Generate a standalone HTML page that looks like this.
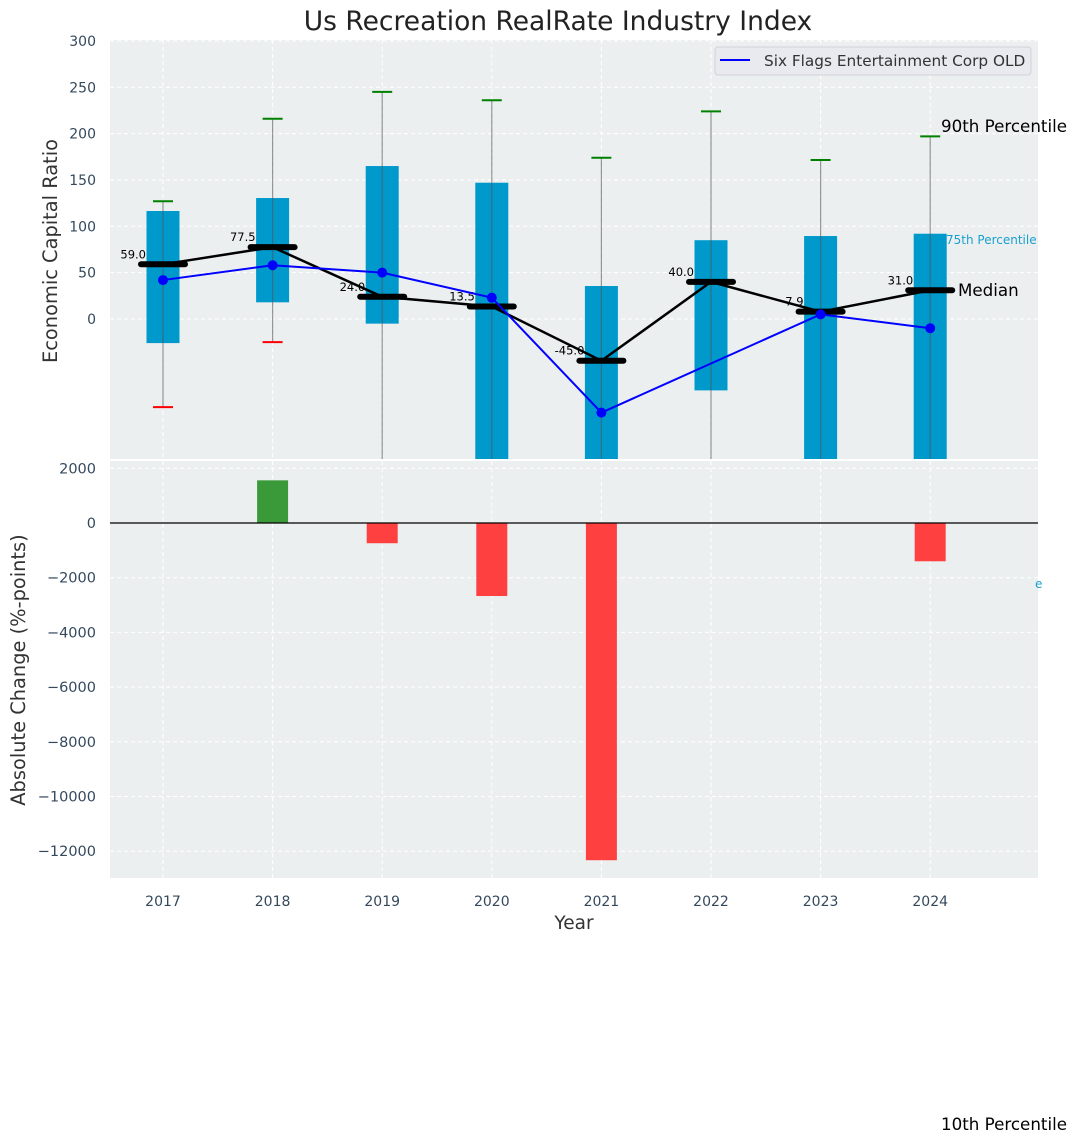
<!DOCTYPE html>
<html><head><meta charset="utf-8"><style>
body{margin:0;background:#fff;}
svg{display:block;font-family:"DejaVu Sans","Liberation Sans",sans-serif;}
</style></head><body>
<svg id="chart" width="1076" height="1144" viewBox="0 0 1076 1144">
<text x="558" y="30" font-size="26.5" text-anchor="middle" fill="#222">Us Recreation RealRate Industry Index</text>
<rect x="110" y="40" width="928" height="419" fill="#eceff0"/>
<rect x="110" y="461" width="928" height="417" fill="#eceff0"/>
<g id="topPlot"></g>
<g id="bottomPlot"></g>
<g>
<rect x="715" y="47" width="316" height="28" rx="3" fill="#e8eaf0" stroke="#cfd2d8"/>
<line x1="720" y1="60" x2="750" y2="60" stroke="#0000ff" stroke-width="2"/>
<text x="764" y="66" font-size="15.3" fill="#333">Six Flags Entertainment Corp OLD</text>
</g>
<text x="941" y="132" font-size="16.7" fill="#000">90th Percentile</text>
<text x="946" y="244" font-size="12" fill="#1aa0cf">75th Percentile</text>
<text x="958" y="296" font-size="16.7" fill="#000">Median</text>
<text x="1035" y="588" font-size="12" fill="#1aa0cf">e</text>
<text x="941" y="1130" font-size="16.7" fill="#000">10th Percentile</text>
<text transform="translate(57,251) rotate(-90)" font-size="19.4" text-anchor="middle" fill="#333">Economic Capital Ratio</text>
<text transform="translate(25,670) rotate(-90)" font-size="19.4" text-anchor="middle" fill="#333">Absolute Change (%-points)</text>
<text x="574" y="929" font-size="18.5" text-anchor="middle" fill="#333">Year</text>
</svg>
<script>
const years=[2017,2018,2019,2020,2021,2022,2023,2024];
const p90=[127,216,245,236,174,224,171.5,197];
const p75=[116.5,130.5,165,147,35.6,85,89.5,92];
const p25=[-26,18,-5,-200,-200,-77,-200,-200];
const p10=[-95,-25,-200,-200,-200,-200,-200,-200];
const medians=[59.0,77.5,24.0,13.5,-45.0,40.0,7.9,31.0];
const company=[42,58,50,23,-101,-48,5,-10];
const changes=[0,1560,-740,-2670,-12330,0,0,-1400];
const topTicks=[0,50,100,150,200,250,300];
const botTicks=[2000,0,-2000,-4000,-6000,-8000,-10000,-12000];

const NS="http://www.w3.org/2000/svg";
const xS=i=>163+i*109.6;
const yT=v=>Math.min(459,Math.max(40,319-v*0.927));
const yB=v=>523-v*0.02735;
function mk(p,t,a){const e=document.createElementNS(NS,t);for(const k in a)e.setAttribute(k,a[k]);p.appendChild(e);return e;}
const topG=document.getElementById('topPlot'),botG=document.getElementById('bottomPlot');

topTicks.forEach(v=>{
 const g=mk(topG,'line',{x1:110,x2:1038,y1:yT(v),y2:yT(v),stroke:'#fff','stroke-dasharray':'4,3'});
 
 
 const t=mk(topG,'text',{x:96,y:yT(v)+5,'font-size':14,'text-anchor':'end',fill:'#34495e'});t.textContent=v;
 
 
});
botTicks.forEach(v=>{
 const g=mk(botG,'line',{x1:110,x2:1038,y1:yB(v),y2:yB(v),stroke:'#fff','stroke-dasharray':'4,3'});
 
 
 const t=mk(botG,'text',{x:96,y:yB(v)+5,'font-size':14.5,'text-anchor':'end',fill:'#34495e'});t.textContent=v<0?'\u2212'+(-v):v;
 
 
});
years.forEach((y,i)=>{
 const x=xS(i);
 let g=mk(topG,'line',{x1:x,x2:x,y1:40,y2:459,stroke:'#fff','stroke-dasharray':'4,3'});
 
 
 g=mk(botG,'line',{x1:x,x2:x,y1:461,y2:878,stroke:'#fff','stroke-dasharray':'4,3'});
 
 
 const t=mk(botG,'text',{x:x,y:906,'font-size':14,'text-anchor':'middle',fill:'#34495e'});t.textContent=y;
 
 
});
years.forEach((y,i)=>{
 const x=xS(i);
 const b=mk(topG,'rect',{x:x-16.5,y:yT(p75[i]),width:33,height:yT(p25[i])-yT(p75[i]),fill:'#0099cc'});
 
 
 const w=mk(topG,'line',{x1:x,x2:x,y1:yT(p90[i]),y2:yT(p10[i]),stroke:'#555','stroke-opacity':0.6,'stroke-width':1.2});
 
 
 const c=mk(topG,'line',{x1:x-10,x2:x+10,y1:yT(p90[i]),y2:yT(p90[i]),stroke:'green','stroke-width':2});
 
 
 if(p10[i]>-151){const d=mk(topG,'line',{x1:x-10,x2:x+10,y1:yT(p10[i]),y2:yT(p10[i]),stroke:'red','stroke-width':2});
 
 }
});
const mp=mk(topG,'polyline',{points:medians.map((v,i)=>xS(i)+','+yT(v)).join(' '),fill:'none',stroke:'#000','stroke-width':2.5});


medians.forEach((v,i)=>{
 const x=xS(i);
 const m=mk(topG,'line',{x1:x-22,x2:x+22,y1:yT(v),y2:yT(v),stroke:'#000','stroke-width':6,'stroke-linecap':'round'});
 
 
 const t=mk(topG,'text',{x:x-17,y:yT(v)-6,'font-size':11.5,'text-anchor':'end',fill:'#000'});t.textContent=v.toFixed(1);
 
 
});
const cl=mk(topG,'polyline',{points:company.map((v,i)=>xS(i)+','+yT(v)).join(' '),fill:'none',stroke:'#0000ff','stroke-width':2});


company.forEach((v,i)=>{
 if(i===5)return;
 const p=mk(topG,'circle',{cx:xS(i),cy:yT(v),r:5,fill:'#0000ff'});
 
 
});
changes.forEach((v,i)=>{
 if(v===0)return;
 const x=xS(i);
 const r=mk(botG,'rect',{x:x-15.5,y:Math.min(yB(v),yB(0)),width:31,height:Math.abs(yB(v)-yB(0)),fill:v>0?'#3a9a3a':'#ff4040'});
 
 
});
const z=mk(botG,'line',{x1:110,x2:1038,y1:yB(0),y2:yB(0),stroke:'#000','stroke-width':1.3});


</script>
</body></html>
